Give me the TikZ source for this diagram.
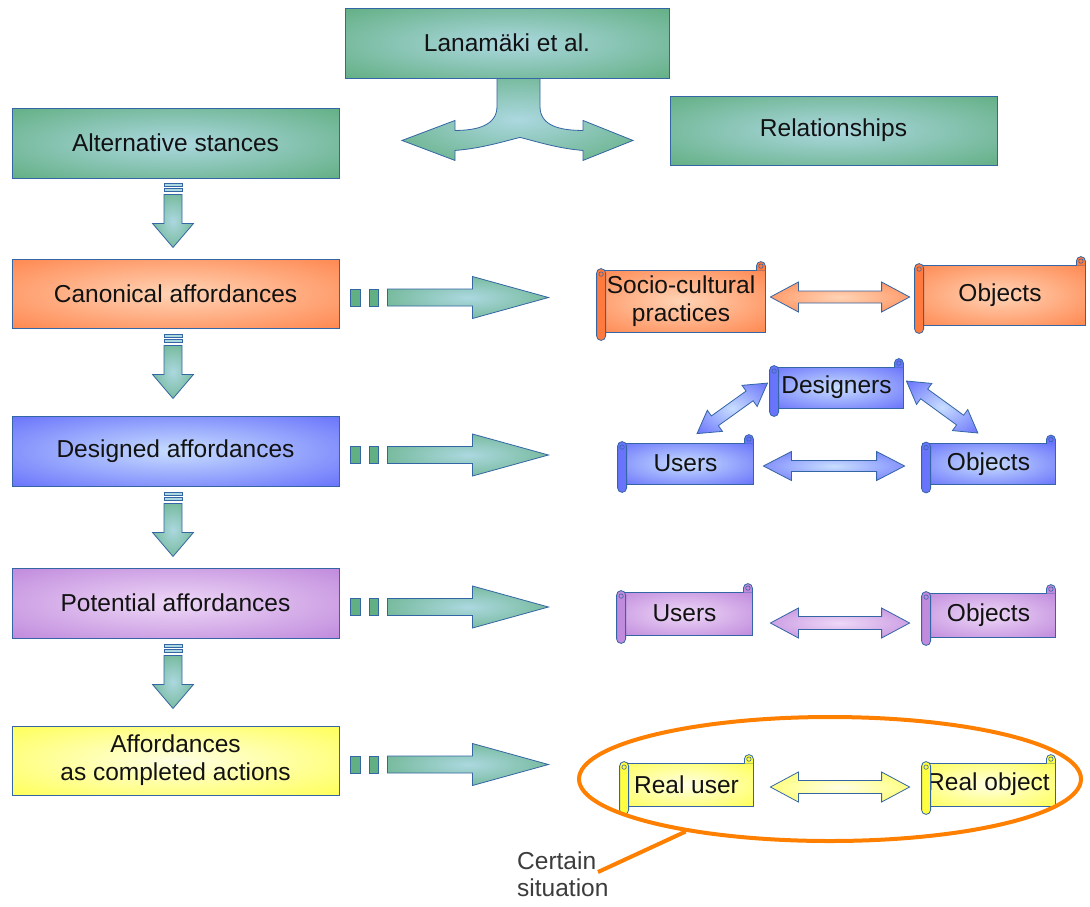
\documentclass[tikz,border=0pt]{standalone}
\usepackage{fontspec}
\setmainfont{Liberation Sans}
\usetikzlibrary{calc,shapes.geometric}

% palette
\definecolor{bordc}{RGB}{52,101,164}
\definecolor{txtc}{RGB}{18,18,18}
\definecolor{labc}{RGB}{60,60,60}
\definecolor{ellc}{RGB}{255,128,0}
\definecolor{greenin}{RGB}{172,216,224}
\definecolor{greenout}{RGB}{86,168,116}
\definecolor{orangein}{RGB}{255,212,182}
\definecolor{orangeout}{RGB}{255,122,62}
\definecolor{bluein}{RGB}{200,222,255}
\definecolor{blueout}{RGB}{88,96,250}
\definecolor{purplein}{RGB}{238,216,247}
\definecolor{purpleout}{RGB}{184,124,216}
\definecolor{yellowin}{RGB}{255,255,228}
\definecolor{yellowout}{RGB}{255,255,64}

% soft centre-to-edge gradients
\pgfdeclareradialshading{greenball}{\pgfpoint{0bp}{0bp}}{color(0bp)=(greenin); color(42bp)=(greenout); color(50bp)=(greenout)}
\pgfdeclareradialshading{orangeball}{\pgfpoint{0bp}{0bp}}{color(0bp)=(orangein); color(42bp)=(orangeout); color(50bp)=(orangeout)}
\pgfdeclareradialshading{blueball}{\pgfpoint{0bp}{0bp}}{color(0bp)=(bluein); color(42bp)=(blueout); color(50bp)=(blueout)}
\pgfdeclareradialshading{purpleball}{\pgfpoint{0bp}{0bp}}{color(0bp)=(purplein); color(42bp)=(purpleout); color(50bp)=(purpleout)}
\pgfdeclareradialshading{yellowball}{\pgfpoint{0bp}{0bp}}{color(0bp)=(yellowin); color(42bp)=(yellowout); color(50bp)=(yellowout)}

\tikzset{
  lbl/.style={font=\fontsize{24.5}{28}\selectfont, text=txtc},
  box/.style={lbl, rectangle, draw=bordc, line width=0.9pt, minimum width=327,
    minimum height=70, inner sep=0pt, align=center},
  scrollbox/.style={lbl, rectangle, draw=bordc, line width=0.8pt, inner sep=0pt, align=center},
  blk/.style={draw=bordc, line width=0.8pt, line join=miter},
}

% rolled ends of a horizontal scroll
\newcommand\scrollparts[2]{%
  \filldraw[fill=#2, draw=bordc, line width=0.8pt, rounded corners=4.5pt]
    ($(#1.north west)+(0,-1)$) rectangle ($(#1.south west)+(9,8)$);
  \draw[bordc, line width=0.6pt] ($(#1.north west)+(4.5,4.5)$) circle[radius=2.2pt];
  \filldraw[fill=#2, draw=bordc, line width=0.8pt, rounded corners=4.5pt]
    ($(#1.north east)+(-9,1)$) -- ($(#1.north east)+(-9,-8)$) --
    ($(#1.north east)+(0,-8)$) -- ($(#1.north east)+(0,1)$);
  \draw[bordc, line width=0.6pt] ($(#1.north east)+(-4.5,-3.5)$) circle[radius=2.2pt];
}

% two-headed block arrow: shading, from, to, head length, head half-width, shaft half-width
\newcommand\dblblock[6]{%
  \path let \p1=(#2), \p2=(#3), \n1={atan2(\y2-\y1,\x2-\x1)}, \n2={veclen(\x2-\x1,\y2-\y1)} in
    \pgfextra{\xdef\blkang{\n1}\xdef\blklen{\n2}};
  \begin{scope}[shift={(#2)}, rotate=\blkang]
    \path[blk, shading=#1] (0,0) -- (#4,-#5) -- (#4,-#6) -- (\blklen-#4,-#6) --
      (\blklen-#4,-#5) -- (\blklen,0) -- (\blklen-#4,#5) -- (\blklen-#4,#6) --
      (#4,#6) -- (#4,#5) -- cycle;
  \end{scope}
}

% striped block arrow pointing right
\newcommand\rightblock[1]{%
  \begin{scope}[shift={(#1)}]
    \path[blk, fill=greenout!85!greenin] (0,-8.5) rectangle (10,8.5);
    \path[blk, fill=greenout!85!greenin] (19,-8.5) rectangle (28,8.5);
    \path[blk, shading=greenball] (37,-8.5) -- (122,-8.5) -- (122,-21) -- (198,0) --
      (122,21) -- (122,8.5) -- (37,8.5) -- cycle;
  \end{scope}
}

% striped block arrow pointing down
\newcommand\downblock[1]{%
  \begin{scope}[shift={(#1)}]
    \path[blk, fill=greenin, line width=0.6pt] (-9,0) rectangle (9,3);
    \path[blk, fill=greenin, line width=0.6pt] (-9,5) rectangle (9,8);
    \path[blk, shading=greenball] (-9,11) -- (-9,40) -- (-20.5,40) -- (0,64) --
      (20.5,40) -- (9,40) -- (9,11) -- cycle;
  \end{scope}
}

\begin{document}
\begin{tikzpicture}[x=1pt, y=-1pt]
\useasboundingbox (0,0) rectangle (1090,906);
\fill[white] (0,0) rectangle (1090,906);

% headings
\node[box, shading=greenball, minimum width=324] (lan) at (507,43) {Lanamäki et al.};
\node[box, shading=greenball, minimum height=69] (rel) at (833.5,130.5) {Relationships};
\node[box, shading=greenball] (alt) at (175.5,143) {Alternative stances};

% the four stances
\node[box, shading=orangeball, minimum height=69] (can) at (175.5,293.5) {Canonical affordances};
\node[box, shading=blueball] (des) at (175.5,451) {Designed affordances};
\node[box, shading=purpleball] (pot) at (175.5,603) {Potential affordances};
\node[box, shading=yellowball, minimum height=69] (comp) at (175.5,760.5) {Affordances\\as completed actions};

% branching arrow under the heading
\begin{scope}[shift={(lan.south)}]
  \path[blk, shading=greenball] (-10,0) -- (-10,28) .. controls (-10,47) and (-30,52) .. (-52,52) --
    (-52,42) -- (-105,62) -- (-52,82) -- (-52,72) .. controls (-25,70) and (0,62) .. (13,59)
    .. controls (26,62) and (50,70) .. (76,72) -- (76,82) -- (126,62) -- (76,42) -- (76,52)
    .. controls (52,52) and (33,47) .. (33,28) -- (33,0) -- cycle;
\end{scope}

% downward arrows between stances
\downblock{$(alt.south)+(-2.5,5)$}
\downblock{$(can.south)+(-2.5,6)$}
\downblock{$(des.south)+(-2.5,6)$}
\downblock{$(pot.south)+(-2.5,6)$}

% arrows towards the relationships
\rightblock{$(can.east)+(11,4)$}
\rightblock{$(des.east)+(11,4)$}
\rightblock{$(pot.east)+(11,4)$}
\rightblock{$(comp.east)+(11,4)$}

% relationship scrolls
\node[scrollbox, shading=orangeball, minimum width=168, minimum height=62] (soc) at (681,301) {Socio-cultural\\practices};
\node[scrollbox, shading=orangeball, minimum width=170, minimum height=60] (objO) at (1000,295) {Objects};
\node[scrollbox, shading=blueball, minimum width=133, minimum height=41] (desg) at (836.5,387.5) {Designers};
\node[scrollbox, shading=blueball, minimum width=135, minimum height=41] (usrB) at (685.5,463.5) {Users};
\node[scrollbox, shading=blueball, minimum width=133, minimum height=41] (objB) at (988.5,464) {Objects};
\node[scrollbox, shading=purpleball, minimum width=135, minimum height=43] (usrP) at (684.5,613.5) {Users};
\node[scrollbox, shading=purpleball, minimum width=133, minimum height=44] (objP) at (988.5,615) {Objects};
\node[scrollbox, shading=yellowball, minimum width=133, minimum height=43] (realU) at (686.5,784.5) {Real user};
\node[scrollbox, shading=yellowball, minimum width=133, minimum height=43] (realO) at (988.5,784.5) {Real object};

\scrollparts{soc}{orangeout}
\scrollparts{objO}{orangeout}
\scrollparts{desg}{blueout!85!bluein}
\scrollparts{usrB}{blueout!85!bluein}
\scrollparts{objB}{blueout!85!bluein}
\scrollparts{usrP}{purpleout!85!purplein}
\scrollparts{objP}{purpleout!85!purplein}
\scrollparts{realU}{yellowout}
\scrollparts{realO}{yellowout}

% two-way links between the scrolls
\coordinate (o1) at ($(soc.east)+(5,-4)$);
\coordinate (o2) at ($(objO.west)+(-5,2)$);
\dblblock{orangeball}{o1}{o2}{28}{15}{6}

\coordinate (b1) at ($(usrB.east)+(10,2.5)$);
\coordinate (b2) at ($(objB.west)+(-17,2)$);
\dblblock{blueball}{b1}{b2}{28}{14.5}{5.5}
\coordinate (b3) at ($(usrB.north)+(11.5,-9)$);
\coordinate (b4) at ($(desg.west)+(-2,-4.5)$);
\dblblock{blueball}{b3}{b4}{22}{13}{6}
\coordinate (b5) at ($(desg.east)+(3,-6.5)$);
\coordinate (b6) at ($(objB.north)+(-10.5,-10)$);
\dblblock{blueball}{b5}{b6}{22}{13}{6}

\coordinate (p1) at ($(usrP.east)+(18,9.5)$);
\coordinate (p2) at ($(objP.west)+(-12,8)$);
\dblblock{purpleball}{p1}{p2}{28}{15}{6.5}

\coordinate (y1) at ($(realU.east)+(17,2.5)$);
\coordinate (y2) at ($(realO.west)+(-12,2.5)$);
\dblblock{yellowball}{y1}{y2}{28}{15}{6.5}

% the certain situation
\node[draw=ellc, line width=4pt, ellipse, minimum width=502, minimum height=124, inner sep=0pt] (sit) at (830,779) {};
\node[anchor=north west, inner sep=0pt, align=left, text=labc,
      font=\fontsize{24.5}{27}\selectfont] (cert) at (517,852) {Certain\\situation};
\coordinate (tailend) at (598,872);
\draw[ellc, line width=4pt] (sit.200) -- (tailend);
\end{tikzpicture}
\end{document}
